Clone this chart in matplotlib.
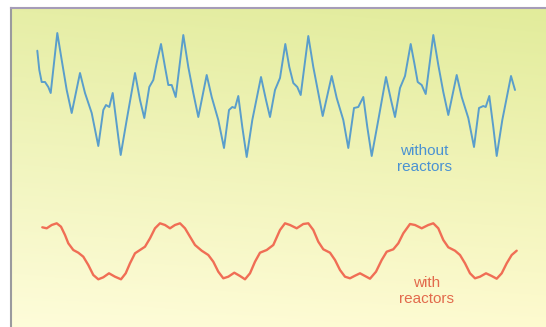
import numpy as np
import matplotlib
matplotlib.use("Agg")
import matplotlib.pyplot as plt

# "without reactors" trace (time, level)
blue_t = [37.3, 39.3, 41.7, 45, 48.3, 50.7, 57.3, 61.7, 66.7, 71.7, 80, 85, 91.7, 98.3,
          103.3, 106, 109.3, 112.7, 118.3, 120.7, 126.7, 135, 140, 144.3, 149.3, 153.3,
          156.7, 161, 165, 168.3, 171.7, 175.7, 183.3, 188.3, 193.3, 198.3, 206.7, 211.7,
          218.3, 224, 229, 232.3, 235, 238.3, 242.3, 246.7, 252.3, 261, 266, 270, 275, 280,
          285.3, 289.3, 293.3, 297.3, 300.7, 308.3, 313.3, 318.3, 322.7, 331.7, 336.7,
          343.3, 348.3, 354, 358.3, 363.3, 367.3, 371.7, 378.3, 386, 391, 395, 400, 405,
          410.7, 414.3, 417.7, 421.7, 425.7, 433.3, 438.3, 443.3, 448.3, 456.7, 461.7,
          468.3, 474, 479, 483.3, 485.7, 489.3, 493.3, 496.7, 502.3, 511, 515]
blue_v = [50.7, 70, 82, 82, 87, 93, 33, 60, 90, 113, 73, 93, 113, 146,
          110, 105, 107, 93, 137, 155, 120, 73, 100, 118, 87, 80,
          63, 44, 67, 85, 85, 97, 35, 67, 93, 117, 75, 97,
          120, 148, 110, 107, 108, 96, 127, 157, 120, 77, 100, 117, 90, 78,
          44, 67, 83, 87, 95, 36, 67, 93, 116, 76, 98,
          120, 148, 108, 107, 97, 127, 156, 120, 77, 100, 117, 88, 76,
          44, 63, 82, 85, 94, 35, 65, 92, 115, 75, 97,
          118, 147, 108, 106, 107, 96, 127, 156, 120, 76, 90]

# "with reactors" trace (time, level)
red_t = [42.3, 46.7, 51.7, 56.7, 61, 65, 68.3, 73.3, 78.3, 83.3, 88.3, 93.3, 98.3, 103.3,
         109, 115, 121, 125.7, 130, 135, 140, 145, 150, 155, 160, 165, 170, 175, 180, 185,
         190, 195, 201.7, 208.3, 213.3, 218.3, 223.3, 228.3, 234.3, 240, 245, 250, 255,
         260, 266.7, 273.3, 280, 285, 290, 296.7, 303.3, 308.3, 313.3, 318.3, 323.3, 330,
         335, 340, 345, 350, 355, 360, 365, 370, 376, 381.7, 386.7, 393.3, 398.3, 403.3,
         410, 415, 421.7, 428.3, 433.3, 438.3, 443.3, 448.3, 455, 460, 465, 470, 475, 480,
         486, 491.7, 496.7, 501.7, 506.7, 511.7, 516.7]
red_v = [227.3, 228.3, 225, 223.3, 226.7, 235, 243.3, 250, 252.7, 256.7, 265, 275, 279.3, 277.3,
         273.3, 276.7, 279.3, 273.3, 263.3, 253.3, 250, 246.7, 238.3, 228.3, 223.3, 225, 228.3, 225, 223.3, 228.3,
         236.7, 245, 250.7, 255, 261.7, 271.7, 278.3, 276.7, 272.7, 276, 279.3, 273.3, 261.7,
         252.7, 250, 245, 230, 223.3, 225, 228.3, 224, 223.3, 230, 241.7, 249.3, 252.7,
         260, 270, 276.7, 278.3, 275.7, 273.3, 276, 278.7, 271.7, 260, 251.7, 249.3, 243.3, 233.3,
         224, 225, 228.3, 225, 223.3, 228.3, 240, 247.3, 250.7, 255, 263.3, 273.3, 278.3, 276.7,
         273.3, 276, 278.7, 273.3, 263.3, 255, 250.7]

labels = ["without\nreactors", "with\nreactors"]

W, H = 546, 327
fig = plt.figure(figsize=(W / 100, H / 100), dpi=100)
fig.patch.set_facecolor("white")

left_px, top_px = 11.0, 8.0
extra = 16.0
ax = fig.add_axes([left_px / W, -extra / H, 1.0, (H - top_px + extra) / H])
ax.set_xlim(left_px, left_px + W)
ax.set_ylim(H + extra, top_px)

# gradient background
ny, nx = 60, 60
yy, xx = np.mgrid[0:1:ny * 1j, 0:1:nx * 1j]
top_l = np.array([230, 238, 166]) / 255
top_r = np.array([226, 236, 155]) / 255
bot_l = np.array([255, 253, 220]) / 255
bot_r = np.array([255, 251, 210]) / 255
img = ((1 - yy)[..., None] * ((1 - xx)[..., None] * top_l + xx[..., None] * top_r)
       + yy[..., None] * ((1 - xx)[..., None] * bot_l + xx[..., None] * bot_r))
ax.imshow(img, extent=(left_px, left_px + W, H + extra, top_px), aspect="auto",
          interpolation="bilinear", zorder=0)

ax.plot(blue_t, blue_v, color="#5a9ecb", lw=1.4, solid_joinstyle="round",
        solid_capstyle="round", zorder=3)
ax.plot(red_t, red_v, color="#f06e55", lw=1.7, solid_joinstyle="round",
        solid_capstyle="round", zorder=3)

fam = ["Liberation Sans", "DejaVu Sans"]
ax.text(424, 159, labels[0], color="#4a92d2", fontsize=11, family=fam,
        ha="center", va="center", linespacing=1.2, zorder=4)
ax.text(427, 291, labels[1], color="#e26a4c", fontsize=11, family=fam,
        ha="center", va="center", linespacing=1.2, zorder=4)

ax.set_xticks([])
ax.set_yticks([])
for s in ["right", "bottom"]:
    ax.spines[s].set_visible(False)
ax.spines["left"].set_color("#9a9a9e")
ax.spines["left"].set_linewidth(1.5)
ax.spines["top"].set_color("#a59cb8")
ax.spines["top"].set_linewidth(1.5)

fig.savefig("out.png", dpi=100)
